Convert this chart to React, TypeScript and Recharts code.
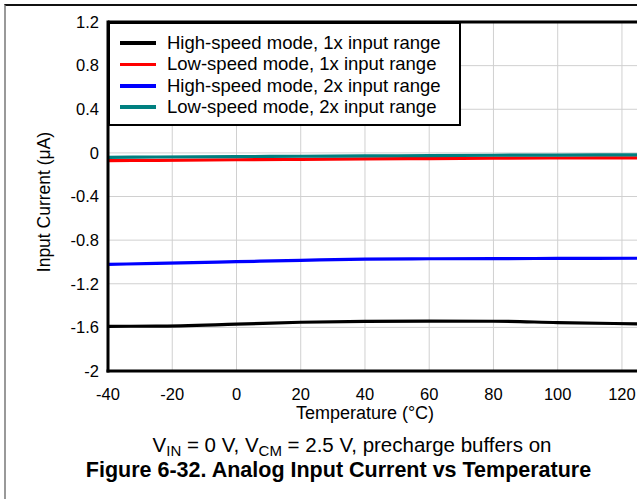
import React from "react";
import { LineChart, Line, XAxis, YAxis, CartesianGrid, ReferenceLine } from "recharts";

const temperatures = [-40, -25, 0, 20, 40, 60, 80, 100, 125];
const highSpeed1x = [-1.59, -1.589, -1.571, -1.553, -1.545, -1.543, -1.544, -1.556, -1.568];
const lowSpeed1x = [-0.071, -0.068, -0.063, -0.059, -0.055, -0.052, -0.049, -0.047, -0.045];
const highSpeed2x = [-1.022, -1.014, -0.998, -0.985, -0.974, -0.971, -0.969, -0.968, -0.966];
const lowSpeed2x = [-0.041, -0.038, -0.034, -0.031, -0.028, -0.025, -0.022, -0.02, -0.018];

const xTicks = [-40, -20, 0, 20, 40, 60, 80, 100, 120];
const yTicks = [-2, -1.6, -1.2, -0.8, -0.4, 0, 0.4, 0.8, 1.2];

const seriesNames = [
  "High-speed mode, 1x input range",
  "Low-speed mode, 1x input range",
  "High-speed mode, 2x input range",
  "Low-speed mode, 2x input range",
];
const seriesKeys = ["hs1x", "ls1x", "hs2x", "ls2x"];
const seriesColors = ["#000000", "#ff0000", "#0000ff", "#008080"];

const data = temperatures.map((t, i) => ({
  t,
  hs1x: highSpeed1x[i],
  ls1x: lowSpeed1x[i],
  hs2x: highSpeed2x[i],
  ls2x: lowSpeed2x[i],
}));

const FONT = "Arial, 'Liberation Sans', sans-serif";

export default function App() {
  const order = [0, 1, 2, 3];
  return (
    <div
      style={{
        position: "fixed",
        left: 0,
        top: 0,
        width: 637,
        height: 499,
        overflow: "hidden",
        background: "#fff",
        fontFamily: FONT,
      }}
    >
      {/* outer frame */}
      <div
        style={{
          position: "absolute",
          left: 4,
          top: 4,
          width: 700,
          height: 600,
          borderTop: "2px solid #111",
          borderLeft: "2px solid #999",
        }}
      />
      <div style={{ position: "absolute", left: 0, top: 0 }}>
        <LineChart
          width={660}
          height={499}
          data={data}
          margin={{ top: 22, right: 22, bottom: 98, left: 0 }}
        >
          <CartesianGrid stroke="#d0d0d0" strokeWidth={1} />
          <XAxis
            type="number"
            dataKey="t"
            domain={[-40, 125]}
            ticks={xTicks}
            allowDataOverflow
            height={30}
            tickLine={false}
            tickMargin={11}
            axisLine={{ stroke: "#000", strokeWidth: 3, strokeLinecap: "square" }}
            tick={{ fill: "#000", fontSize: 16.5, fontFamily: FONT }}
          />
          <YAxis
            type="number"
            domain={[-2, 1.2]}
            ticks={yTicks}
            allowDataOverflow
            width={108}
            tickLine={false}
            tickMargin={3}
            tickFormatter={(v: number) => String(Number(v.toFixed(1)))}
            axisLine={{ stroke: "#000", strokeWidth: 3, strokeLinecap: "square" }}
            tick={{ fill: "#000", fontSize: 16.5, fontFamily: FONT }}
          />
          <ReferenceLine y={1.2} stroke="#000" strokeWidth={3} />
          {order.map((i) => (
            <Line
              key={seriesKeys[i]}
              type="monotone"
              dataKey={seriesKeys[i]}
              stroke={seriesColors[i]}
              strokeWidth={3.2}
              dot={false}
              isAnimationActive={false}
            />
          ))}
        </LineChart>
      </div>

      {/* legend */}
      <div
        style={{
          position: "absolute",
          left: 108,
          top: 22,
          width: 353,
          height: 104,
          boxSizing: "border-box",
          border: "2.5px solid #000",
          background: "#fff",
        }}
      >
        {seriesNames.map((name, i) => (
          <div
            key={name}
            style={{
              position: "absolute",
              left: 10,
              top: 8.5 + i * 21.4,
              height: 21,
              display: "flex",
              alignItems: "center",
              whiteSpace: "nowrap",
              fontSize: 18.5,
              color: "#000",
            }}
          >
            <div style={{ width: 36, height: 3.5, background: seriesColors[i], marginRight: 11 }} />
            <span>{name}</span>
          </div>
        ))}
      </div>

      {/* y axis label */}
      <div
        style={{
          position: "absolute",
          left: 44,
          top: 202,
          transform: "translate(-50%, -50%) rotate(-90deg)",
          whiteSpace: "nowrap",
          fontSize: 17.5,
          color: "#000",
        }}
      >
        Input Current (μA)
      </div>

      {/* x axis label */}
      <div
        style={{
          position: "absolute",
          left: 365,
          top: 413,
          transform: "translate(-50%, -50%)",
          whiteSpace: "nowrap",
          fontSize: 18,
          color: "#000",
        }}
      >
        Temperature (°C)
      </div>

      {/* condition */}
      <div
        style={{
          position: "absolute",
          left: 352,
          top: 435,
          whiteSpace: "nowrap",
          fontSize: 20.5,
          lineHeight: "20px",
          height: 24,
          transform: "translateX(-50%)",
          color: "#000",
        }}
      >
        V<span style={{ fontSize: 15, position: "relative", top: 4 }}>IN</span> = 0 V, V
        <span style={{ fontSize: 15, position: "relative", top: 4 }}>CM</span> = 2.5 V, precharge buffers on
      </div>

      {/* title */}
      <div
        style={{
          position: "absolute",
          left: 338.5,
          top: 460,
          whiteSpace: "nowrap",
          fontSize: 21.5,
          lineHeight: "20px",
          transform: "translateX(-50%)",
          fontWeight: "bold",
          color: "#000",
        }}
      >
        Figure 6-32. Analog Input Current vs Temperature
      </div>
    </div>
  );
}
